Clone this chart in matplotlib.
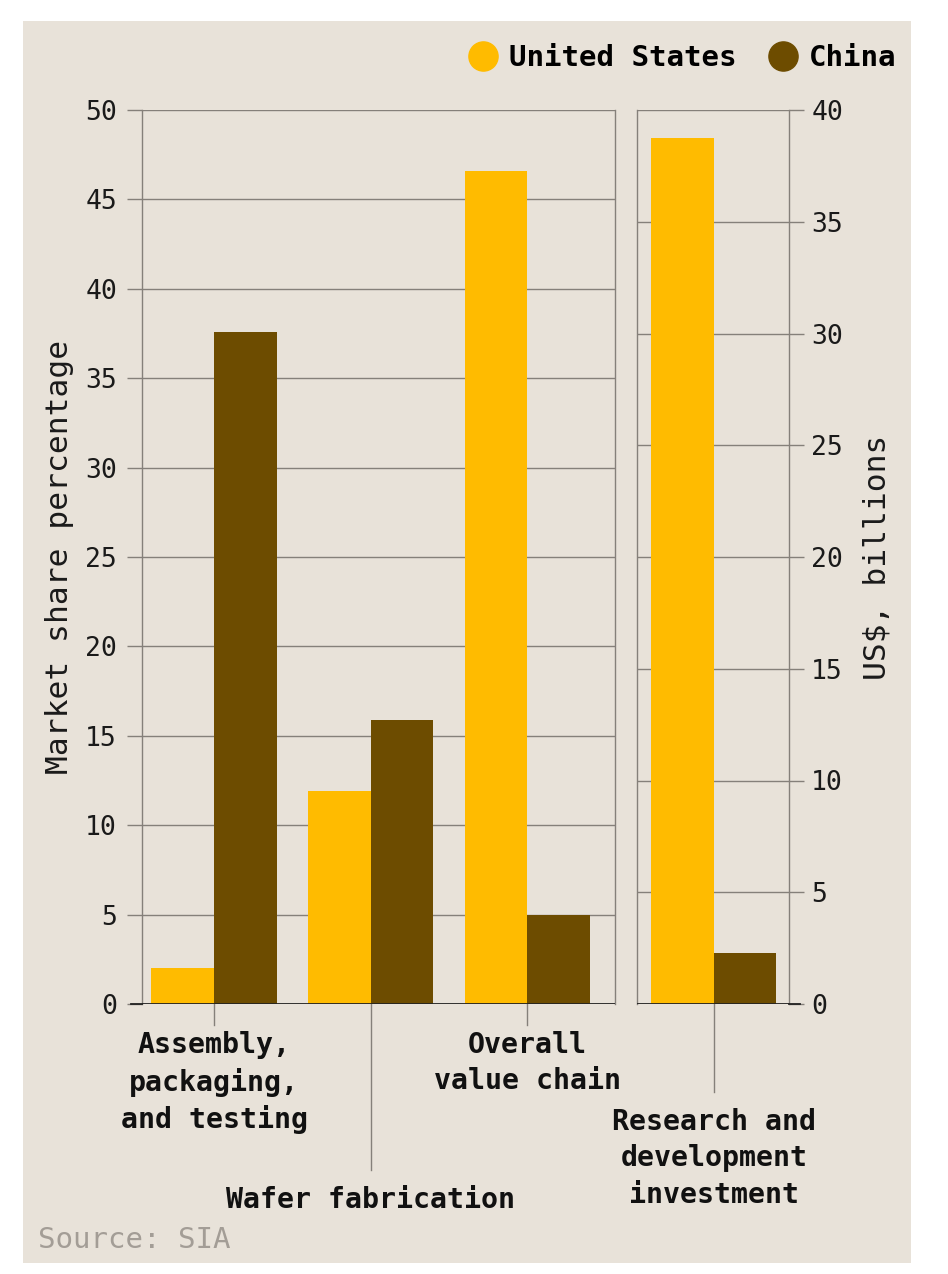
import matplotlib.pyplot as plt
from matplotlib.patches import Rectangle
from matplotlib.lines import Line2D

# market share (%) - left panel
segments = ["Assembly,\npackaging,\nand testing", "Wafer fabrication", "Overall\nvalue chain"]
us_share = [2.0, 11.9, 46.6]
china_share = [37.6, 15.9, 5.0]

# R&D investment (US$ billions) - right panel
rd_label = "Research and\ndevelopment\ninvestment"
us_rd = [38.75]
china_rd = [2.3]

left_ticks = [0, 5, 10, 15, 20, 25, 30, 35, 40, 45, 50]
right_ticks = [0, 5, 10, 15, 20, 25, 30, 35, 40]

BG = "#e8e2d9"
YELLOW = "#ffbb00"
BROWN = "#6d4c00"
GRID = "#85807a"
MONO = "DejaVu Sans Mono"
W = 948
H = 1274

fig = plt.figure(figsize=(9.48, 12.74), dpi=100)
fig.patch.set_facecolor("white")
fig.patches.append(Rectangle((23 / W, 1 - 1263 / H), 888 / W, 1242 / H,
                             transform=fig.transFigure, facecolor=BG,
                             edgecolor="none", zorder=-10))


def px_box(x0, x1, y_top, y_bot):
    return [x0 / W, 1 - y_bot / H, (x1 - x0) / W, (y_bot - y_top) / H]


ax1 = fig.add_axes(px_box(142, 615, 110, 1004))
ax2 = fig.add_axes(px_box(637, 789, 110, 1004))

width = 0.4
for ax in (ax1, ax2):
    ax.set_facecolor("none")
    for side in ("top", "bottom"):
        ax.spines[side].set_visible(False)
    for side in ("left", "right"):
        ax.spines[side].set_color(GRID)
        ax.spines[side].set_linewidth(1)
        ax.spines[side].set_zorder(1)
    ax.tick_params(axis="x", length=0, labelbottom=False)
    ax.tick_params(axis="y", length=11, color=GRID, width=1,
                   labelsize=19, labelcolor="#1a1a1a")

x1 = list(range(len(segments)))
ax1.bar([x - width / 2 for x in x1], us_share, width, color=YELLOW, zorder=3)
ax1.bar([x + width / 2 for x in x1], china_share, width, color=BROWN, zorder=3)
ax1.set_xlim(-0.46, 2.56)
ax1.set_ylim(0, 50)
ax1.set_yticks(left_ticks)
ax1.set_yticklabels([str(t) for t in left_ticks], family=MONO, fontsize=19)
ax1.tick_params(axis="y", pad=7)
for t in left_ticks[1:]:
    ax1.axhline(t, color=GRID, lw=1, zorder=1)
ax1.axhline(0, color="#222222", lw=1.3, zorder=4)
ax1.set_ylabel("Market share percentage", family=MONO, fontsize=22.5,
               color="#1a1a1a", labelpad=8)

ax2.bar([-width / 2], us_rd, width, color=YELLOW, zorder=3)
ax2.bar([width / 2], china_rd, width, color=BROWN, zorder=3)
ax2.set_xlim(-0.49, 0.48)
ax2.set_ylim(0, 40)
ax2.yaxis.tick_right()
ax2.yaxis.set_label_position("right")
ax2.set_yticks(right_ticks)
ax2.set_yticklabels([str(t) for t in right_ticks], family=MONO, fontsize=19)
ax2.tick_params(axis="y", pad=5)
for t in right_ticks[1:]:
    ax2.axhline(t, color=GRID, lw=1, zorder=1)
ax2.axhline(0, color="#222222", lw=1.3, zorder=4)
ax2.set_ylabel("US$, billions", family=MONO, fontsize=22.5, color="#1a1a1a",
               rotation=90, labelpad=14)

# extend zero line outward like the reference
ax1.plot([-0.46 - 11 / 156.5, -0.46], [0, 0], color="#222222", lw=1.3,
         clip_on=False, zorder=4)
ax2.plot([0.48, 0.48 + 11 / 156.5], [0, 0], color="#222222", lw=1.3,
         clip_on=False, zorder=4)

# category ticks and labels (pixel offsets below the baseline)
tick_len = [21, 166, 21]
label_y = [1031, 1186, 1031]
for x, lab, tl, ly in zip(x1, segments, tick_len, label_y):
    tr = ax1.get_xaxis_transform()
    ax1.plot([x, x], [0, -tl / 894], color=GRID, lw=1, transform=tr, clip_on=False)
    ax1.text(x, -(ly - 1004) / 894, lab, transform=tr, ha="center", va="top",
             family=MONO, fontweight="bold", fontsize=20.3, linespacing=1.38,
             color="#111111")

tr2 = ax2.get_xaxis_transform()
ax2.plot([0, 0], [0, -88 / 894], color=GRID, lw=1, transform=tr2, clip_on=False)
ax2.text(0, -(1108 - 1004) / 894, rd_label, transform=tr2, ha="center", va="top",
         family=MONO, fontweight="bold", fontsize=20.3, linespacing=1.38,
         color="#111111")

# legend
handles = [Line2D([], [], marker="o", ls="none", ms=21, color=YELLOW, label="United States"),
           Line2D([], [], marker="o", ls="none", ms=21, color=BROWN, label="China")]
fig.legend(handles=handles, loc="center right", bbox_to_anchor=(923 / W, 1 - 58 / H),
           ncol=2, frameon=False, handletextpad=0.4, columnspacing=1.1,
           handlelength=1.0, prop={"family": MONO, "weight": "bold", "size": 21})

fig.text(38 / W, 1 - 1240 / H, "Source: SIA", family=MONO, fontsize=21,
         color="#a39d96", ha="left", va="center")

fig.savefig("out.png", dpi=100, facecolor="white")
